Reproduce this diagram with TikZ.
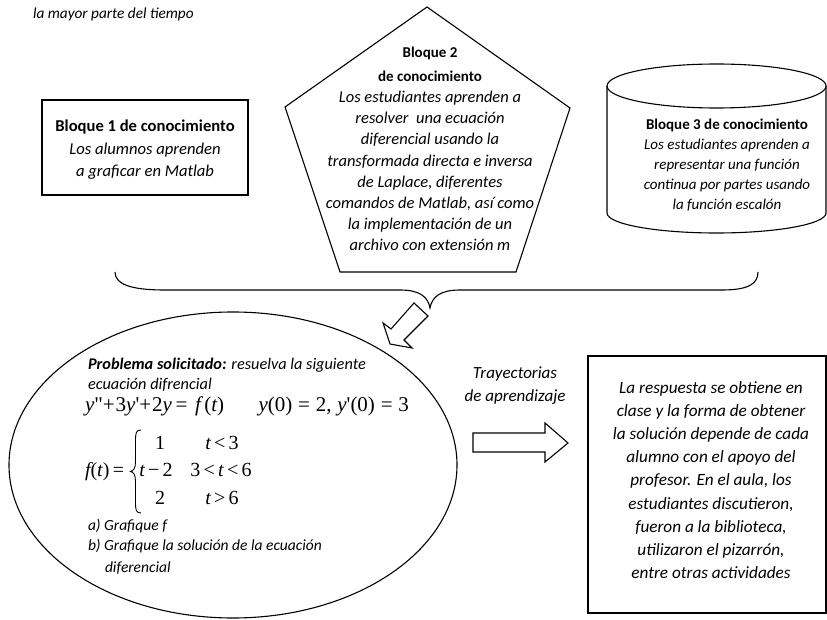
\documentclass[tikz,border=0pt]{standalone}
\usepackage{fontspec}
\setmainfont{Carlito}
\newfontfamily\tms{Liberation Serif}
\usetikzlibrary{shapes.geometric}
\newcommand\mi[1]{{\tms\itshape #1}}
\newcommand\mr[1]{{\tms #1}}
\begin{document}
\begin{tikzpicture}[x=1pt,y=-1pt,line width=1.1pt,
  every node/.style={inner sep=0pt,outer sep=0pt},
  shapeline/.style={draw,line width=1.1pt},
  ltext/.style={anchor=base west,font=\itshape\fontsize{15.5}{18}\selectfont},
  eq/.style={font=\fontsize{21}{24}\selectfont},
  pw/.style={anchor=base,font=\fontsize{20}{22}\selectfont}]
\useasboundingbox (0,0) rectangle (827,620);
% top-left text
\node[anchor=west,font=\itshape\fontsize{15.3}{18}\selectfont] (topline) at (33,14) {la mayor parte del tiempo};
% block 1
\node[shapeline,minimum width=206,minimum height=95] (b1) at (145,147.5) {};
\node[align=center,font=\fontsize{16.6}{22.5}\selectfont] (b1t) at (145,150) {\textbf{Bloque 1 de conocimiento}\\\textit{Los alumnos aprenden}\\\textit{a graficar en Matlab}};
% block 2 pentagon
\coordinate (p1) at (427,7);
\coordinate (p2) at (570,108);
\coordinate (p3) at (516,272);
\coordinate (p4) at (340,272);
\coordinate (p5) at (285,107);
\draw (p1) -- (p2) -- (p3) -- (p4) -- (p5) -- cycle;
\node[align=center,font=\bfseries\fontsize{15}{24}\selectfont] (b2h) at (430,64) {Bloque 2\\de conocimiento};
\node[align=center,font=\itshape\fontsize{16.5}{21.2}\selectfont] (b2t) at (430,171) {Los estudiantes aprenden a\\resolver\ \ una ecuación\\diferencial usando la\\transformada directa e inversa\\de Laplace, diferentes\\comandos de Matlab, así como\\la implementación de un\\archivo con extensión m};
% block 3 cylinder
\coordinate (c1) at (607,86);
\coordinate (c2) at (607,213);
\coordinate (c3) at (826,86);
\draw (c1) -- (c2) arc[start angle=180,end angle=360,x radius=109.5pt,y radius=20pt] -- (c3);
\draw (716.5,86) ellipse[x radius=109.5pt,y radius=22pt];
\node[align=center,font=\fontsize{15}{20}\selectfont] (b3t) at (727,165) {\textbf{Bloque 3 de conocimiento}\\\textit{Los estudiantes aprenden a}\\\textit{representar una función}\\\textit{continua por partes usando}\\\textit{la función escalón}};
% brace
\coordinate (brL) at (115,272);
\coordinate (brT) at (430,308);
\coordinate (brR) at (758,272);
\draw (brL) .. controls (115,284) and (130,290) .. (165,290) -- (400,290)
  .. controls (420,290) and (428,297) .. (brT)
  .. controls (432,297) and (440,290) .. (460,290) -- (722,290)
  .. controls (748,290) and (758,284) .. (brR);
% ellipse
\node[ellipse,shapeline,minimum width=448,minimum height=306] (ell) at (233,465) {};
% down-left block arrow
\draw[fill=white] (414,303) -- (428,316) -- (404,340) -- (412,348) -- (390,344) -- (383,323) -- (391,329) -- cycle;
% ellipse text
\node[ltext,font=\fontsize{16.3}{18}\selectfont] (prob1) at (88,369) {\textbf{\textit{Problema solicitado:}} \textit{resuelva la siguiente}};
\node[ltext,font=\itshape\fontsize{16.3}{18}\selectfont] (prob2) at (88,389) {ecuación difrencial};
\node[eq,anchor=base west] (eqa) at (85,411) {\mi{y}\mr{"+\kern1pt3}\mi{y}\mr{'+\kern1pt2}\mi{y}\mr{\,=}};
\node[eq,anchor=base west] (eqb) at (195,411) {\mi{f}\mr{\,(}\mi{t}\mr{)}};
\node[eq,anchor=base east] (eqc) at (409,411) {\mi{y}\mr{(0)\;=\;2,\;}\mi{y}\mr{'(0)\;=\;3}};
\node[pw,anchor=base west] (ft) at (85,476) {\mi{f}\mr{(}\mi{t}\mr{)\,=}};
\coordinate (pwt) at (141,430);
\coordinate (pwb) at (141,513);
\draw[line width=0.9pt] (pwt) .. controls (136,430) and (135.5,433) .. (135.5,441) -- (135.5,462)
  .. controls (135.5,468) and (133.5,471) .. (130.5,471.5)
  .. controls (133.5,472) and (135.5,475) .. (135.5,481) -- (135.5,502)
  .. controls (135.5,510) and (136,513) .. (pwb);
\node[pw] (r1a) at (160,449) {\mr{1}};
\node[pw] (r2a) at (156,476) {\mi{t}\mr{\,−\,2}};
\node[pw] (r3a) at (160,504) {\mr{2}};
\node[pw] (r1b) at (222,449) {\mi{t}\mr{\,<\,3}};
\node[pw] (r2b) at (221,476) {\mr{3\,<\,}\mi{t}\mr{\,<\,6}};
\node[pw] (r3b) at (222,504) {\mi{t}\mr{\,>\,6}};
\node[ltext] (pa) at (88,530) {a) Grafique f};
\node[ltext] (pb) at (88,550) {b) Grafique la solución de la ecuación};
\node[ltext] (pc) at (105,572) {diferencial};
% trayectorias
\node[align=center,font=\itshape\fontsize{17}{23}\selectfont] (tray) at (515,386) {Trayectorias\\de aprendizaje};
% right arrow
\draw (473,433) -- (545,433) -- (545,423) -- (568,443) -- (545,462) -- (545,452) -- (473,452) -- cycle;
% right box
\node[shapeline,minimum width=238,minimum height=257] (rb) at (707,484.5) {};
\node[align=center,font=\itshape\fontsize{17.2}{23.1}\selectfont] (rbt) at (711,480) {La respuesta se obtiene en\\clase y la forma de obtener\\la solución depende de cada\\alumno con el apoyo del\\profesor. En el aula, los\\estudiantes discutieron,\\fueron a la biblioteca,\\utilizaron el pizarrón,\\entre otras actividades};
\end{tikzpicture}
\end{document}
